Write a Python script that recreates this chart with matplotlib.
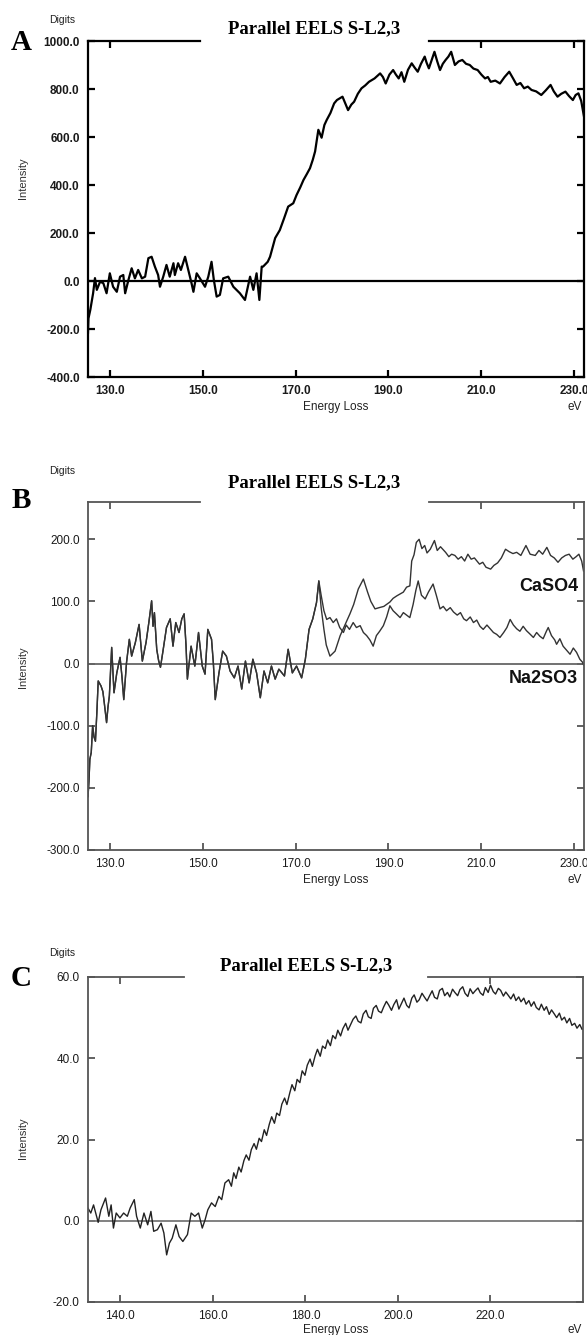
import matplotlib
matplotlib.use("Agg")
from matplotlib import pyplot as plt
from matplotlib.ticker import FormatStrFormatter

# panel A: S-L2,3 edge, single spectrum
a_energy = [125.3, 125.4, 125.8, 126.1, 126.4, 126.8, 127.2, 127.9, 128.6, 129.3,
            130.0, 130.7, 131.5, 132.2, 132.9, 133.3, 134.0, 134.7, 135.4, 136.1,
            136.9, 137.6, 138.3, 139.0, 139.7, 140.4, 140.8, 141.5, 142.2, 142.9,
            143.7, 144.0, 144.7, 145.3, 146.2, 146.9, 147.6, 148.0, 148.7, 149.4,
            150.5, 151.2, 151.9, 152.4, 153.0, 153.7, 154.4, 155.5, 156.6, 158.0,
            159.1, 160.2, 160.9, 161.6, 162.2, 162.7, 163.0, 164.0, 164.5, 165.6,
            166.6, 167.5, 168.4, 169.5, 170.2, 171.0, 171.7, 172.4, 173.1, 173.7,
            174.2, 174.9, 175.6, 176.2, 176.7, 177.5, 178.3, 178.9, 180.1, 181.3,
            182.0, 182.6, 183.4, 184.2, 185.0, 185.8, 187.0, 188.2, 188.8, 189.4,
            190.2, 191.0, 191.6, 192.2, 192.8, 193.4, 194.2, 195.0, 195.6, 196.3,
            197.0, 197.8, 198.2, 198.7, 199.3, 199.9, 200.5, 201.1, 201.7, 202.3,
            202.9, 203.5, 204.3, 205.1, 205.9, 206.7, 207.5, 208.3, 209.2, 210.0,
            210.8, 211.4, 212.0, 213.0, 214.0, 215.0, 216.0, 216.8, 217.6, 218.4,
            219.2, 220.0, 220.8, 221.8, 222.9, 223.9, 224.9, 225.6, 226.4, 227.2,
            228.1, 228.9, 229.7, 230.3, 230.9, 231.5, 232.1]
a_counts = [-215, -156, -120, -86, -51, 12, -37, -3, -9, -51,
            32, -24, -45, 18, 25, -51, 4, 53, 11, 46,
            11, 18, 95, 101, 60, 25, -24, 18, 67, 18,
            74, 25, 74, 46, 101, 46, -10, -45, 32, 11,
            -24, 18, 80, 4, -65, -58, 11, 18, -24, -51,
            -79, 18, -37, 32, -79, 60, 60, 80, 101, 179,
            212, 260, 310, 324, 358, 390, 421, 445, 470, 505,
            540, 630, 597, 650, 671, 700, 740, 754, 768, 712,
            735, 747, 780, 803, 815, 830, 844, 865, 850, 823,
            860, 879, 860, 844, 870, 830, 880, 907, 890, 872,
            905, 935, 910, 886, 920, 955, 915, 879, 905, 921,
            935, 955, 900, 915, 921, 905, 900, 885, 879, 860,
            844, 850, 830, 835, 823, 850, 872, 845, 817, 825,
            803, 810, 796, 790, 775, 795, 817, 790, 768, 780,
            789, 770, 754, 775, 782, 750, 685]

# panel B: below ~175 eV both spectra lie on top of each other
b_energy_shared = [125.3, 125.5, 125.7, 126.0, 126.3, 126.6, 126.9, 127.2, 127.5, 128.1,
                   128.5, 128.8, 129.3, 129.6, 129.9, 130.4, 130.9, 131.5, 132.2, 132.6,
                   133.0, 133.6, 134.2, 134.7, 135.5, 136.3, 137.0, 137.8, 138.4, 139.0,
                   139.3, 139.6, 140.1, 140.5, 140.9, 141.4, 142.2, 143.0, 143.6, 144.2,
                   144.9, 145.5, 146.0, 146.4, 146.7, 147.5, 148.3, 149.1, 149.9, 150.5,
                   151.1, 151.9, 152.3, 152.7, 153.5, 154.3, 155.1, 155.9, 156.8, 157.6,
                   158.4, 159.2, 160.0, 160.8, 161.6, 162.4, 163.2, 164.0, 164.8, 165.6,
                   166.4, 167.6, 168.4, 169.3, 170.2, 171.3, 172.1, 172.9, 173.7, 174.5,
                   175.0]
b_counts_shared = [-214, -190, -154, -143, -100, -118, -125, -80, -28, -36,
                   -45, -63, -95, -70, -52, 26, -47, -15, 10, -20,
                   -58, 2, 39, 12, 34, 63, 4, 34, 66, 101,
                   60, 82, 23, 5, -6, 18, 58, 72, 28, 66,
                   50, 72, 80, 30, -25, 28, -4, 50, -4, -17,
                   55, 39, 0, -58, -15, 20, 12, -12, -23, -4,
                   -41, 4, -31, 7, -15, -55, -12, -31, -4, -25,
                   -9, -20, 23, -15, -4, -23, 7, 55, 72, 98,
                   133]

caso4_energy = [175.5, 176.1, 176.6, 177.4, 178.5, 179.6, 180.5, 181.7, 182.5, 183.5,
                184.6, 185.5, 186.2, 187.1, 188.0, 189.0, 190.3, 191.0, 191.8, 192.5,
                193.2, 193.9, 194.6, 195.0, 195.5, 196.0, 196.6, 197.2, 197.8, 198.3,
                199.0, 199.9, 200.5, 201.2, 202.3, 203.0, 203.6, 204.3, 205.0, 205.7,
                206.4, 207.1, 207.8, 208.5, 209.6, 210.3, 211.0, 212.0, 212.7, 213.5,
                214.3, 215.2, 216.0, 216.8, 217.6, 218.5, 219.6, 220.5, 221.6, 222.4,
                223.2, 224.1, 224.9, 225.7, 226.5, 227.3, 228.1, 228.9, 229.7, 230.4,
                231.0, 231.6, 232.0]
caso4_counts = [90, 55, 30, 12, 20, 45, 60, 80, 95, 120,
                136, 115, 100, 88, 90, 92, 99, 105, 109, 112,
                115, 123, 125, 165, 175, 195, 200, 185, 190, 178,
                184, 198, 182, 188, 179, 172, 176, 174, 168, 172,
                165, 176, 168, 170, 160, 163, 155, 152, 158, 162,
                170, 184, 180, 177, 179, 174, 190, 176, 174, 182,
                176, 187, 174, 170, 163, 170, 174, 176, 168, 172,
                176, 165, 149]

na2so3_energy = [175.5, 176.1, 176.7, 177.4, 178.1, 178.8, 179.5, 180.3, 180.9, 181.6,
                 182.4, 183.1, 183.9, 184.6, 185.3, 186.0, 186.7, 187.4, 188.1, 188.9,
                 189.6, 190.3, 191.0, 191.7, 192.5, 193.2, 193.9, 194.6, 195.3, 195.9,
                 196.4, 197.1, 197.9, 198.6, 199.6, 200.3, 201.1, 201.8, 202.5, 203.3,
                 204.0, 204.8, 205.5, 206.2, 206.8, 207.6, 208.3, 209.0, 209.7, 210.4,
                 211.2, 211.9, 212.6, 213.3, 214.0, 214.8, 215.5, 216.2, 216.9, 217.6,
                 218.3, 219.0, 219.7, 220.4, 221.2, 221.9, 222.6, 223.3, 224.0, 224.4,
                 225.1, 225.8, 226.2, 226.9, 227.6, 228.3, 229.1, 229.8, 230.5, 231.2,
                 231.8, 232.0]
na2so3_counts = [110, 85, 71, 74, 66, 72, 58, 50, 62, 55,
                 66, 58, 61, 50, 45, 38, 28, 45, 52, 61,
                 75, 93, 85, 80, 74, 82, 78, 74, 95, 118,
                 133, 110, 104, 115, 128, 110, 88, 92, 85, 90,
                 83, 78, 82, 72, 69, 75, 66, 70, 60, 55,
                 62, 56, 50, 47, 42, 50, 58, 71, 62, 56,
                 52, 60, 53, 48, 42, 50, 44, 40, 52, 58,
                 45, 38, 31, 40, 28, 22, 15, 25, 18, 7,
                 2, -2]

# panel C
c_energy = [133.0, 133.6, 134.2, 135.2, 135.8, 136.8, 137.5, 138.0, 138.5, 139.1,
            139.9, 140.7, 141.5, 142.1, 143.0, 143.5, 144.3, 145.1, 145.9, 146.6,
            147.2, 148.0, 148.8, 149.4, 150.0, 150.6, 151.2, 152.0, 152.7, 153.5,
            154.5, 155.3, 156.1, 156.9, 157.7, 158.3, 158.9, 159.7, 160.5, 161.3,
            161.9, 162.6, 163.4, 164.0, 164.5, 165.0, 165.6, 166.1, 166.7, 167.2,
            167.8, 168.3, 168.9, 169.4, 170.0, 170.5, 171.1, 171.6, 172.2, 172.7,
            173.3, 173.8, 174.4, 174.9, 175.5, 176.0, 176.6, 177.1, 177.7, 178.2,
            178.8, 179.3, 179.9, 180.4, 181.0, 181.5, 182.1, 182.6, 183.2, 183.7,
            184.3, 184.8, 185.4, 185.9, 186.5, 187.0, 187.6, 188.1, 188.7, 189.2,
            189.8, 190.3, 190.9, 191.4, 192.0, 192.5, 193.1, 193.6, 194.2, 194.7,
            195.3, 195.8, 196.4, 196.9, 197.5, 198.0, 198.6, 199.1, 199.7, 200.2,
            200.8, 201.3, 201.9, 202.4, 203.0, 203.5, 204.1, 204.6, 205.2, 205.7,
            206.3, 206.8, 207.4, 207.9, 208.5, 209.0, 209.6, 210.1, 210.7, 211.2,
            211.8, 212.3, 212.9, 213.4, 214.0, 214.5, 215.1, 215.6, 216.2, 216.7,
            217.3, 217.8, 218.4, 218.9, 219.5, 220.0, 220.6, 221.1, 221.7, 222.2,
            222.8, 223.3, 223.9, 224.4, 225.0, 225.5, 226.1, 226.6, 227.2, 227.7,
            228.3, 228.8, 229.4, 229.9, 230.5, 231.0, 231.6, 232.1, 232.7, 233.2,
            233.8, 234.3, 234.9, 235.4, 236.0, 236.5, 237.1, 237.6, 238.2, 238.7,
            239.3, 239.8, 240.0]
c_counts = [3.1, 1.9, 3.9, -0.4, 2.7, 5.6, 1.1, 3.9, -1.8, 1.9,
            0.7, 1.9, 1.1, 3.1, 5.2, 1.1, -1.8, 1.9, -1.0, 2.3,
            -2.6, -2.2, -0.6, -3.0, -8.4, -5.5, -4.3, -1.0, -3.9, -5.1,
            -3.4, 1.9, 1.1, 1.9, -1.8, 0.2, 2.7, 4.4, 3.5, 6.0,
            5.2, 9.3, 10.1, 8.5, 11.8, 10.4, 13.2, 12.0, 14.8, 16.2,
            14.9, 17.5, 19.0, 17.6, 20.3, 19.5, 22.4, 21.0, 23.8, 25.6,
            24.0, 26.5, 25.9, 28.7, 30.2, 28.6, 31.4, 33.5, 32.0, 34.8,
            34.0, 36.9, 35.8, 38.3, 39.8, 38.0, 40.6, 42.2, 40.5, 43.0,
            42.4, 44.5, 43.1, 45.6, 44.8, 46.9, 45.5, 47.3, 48.6, 46.9,
            48.4, 49.6, 50.4, 49.1, 48.7, 50.9, 51.8, 50.2, 49.8, 52.3,
            53.0, 51.6, 51.2, 52.6, 54.0, 53.1, 51.8, 53.2, 54.4, 52.1,
            53.6, 54.8, 53.0, 52.4, 54.8, 55.6, 53.8, 54.4, 56.0, 55.1,
            54.1, 55.3, 56.6, 55.0, 54.6, 56.7, 57.2, 55.4, 56.2, 55.1,
            57.0, 56.2, 55.4, 56.9, 57.6, 56.0, 55.2, 57.1, 55.9, 56.6,
            57.3, 56.1, 55.5, 57.4, 56.2, 58.0, 56.4, 55.8, 57.2, 56.7,
            55.3, 56.3, 55.4, 54.6, 55.8, 54.2, 55.1, 53.9, 54.8, 53.3,
            54.2, 52.8, 53.9, 52.5, 51.9, 53.3, 51.8, 52.7, 50.8, 51.9,
            50.9, 50.0, 51.1, 49.4, 50.1, 48.7, 49.8, 48.1, 48.6, 47.4,
            48.3, 47.1, 47.2]

ab_xticks = [130, 150, 170, 190, 210, 230]
a_yticks = [-400, -200, 0, 200, 400, 600, 800, 1000]
b_yticks = [-300, -200, -100, 0, 100, 200]
c_xticks = [140, 160, 180, 200, 220]
c_yticks = [-20, 0, 20, 40, 60]

plt.rcParams['font.family'] = ['Liberation Sans', 'DejaVu Sans']
plt.rcParams['axes.unicode_minus'] = False

W, H = 587, 1335
fig = plt.figure(figsize=(W / 100, H / 100), dpi=100)


def box(left, top, right, bottom):
    return [left / W, 1 - bottom / H, (right - left) / W, (bottom - top) / H]


def px(x, y):
    return x / W, 1 - y / H


def setup(ax, xlim, ylim, xticks, yticks, gap, frame, lw, bold):
    ax.set_xlim(xlim)
    ax.set_ylim(ylim)
    ax.set_xticks(xticks)
    ax.set_yticks(yticks)
    ax.xaxis.set_major_formatter(FormatStrFormatter('%.1f'))
    ax.yaxis.set_major_formatter(FormatStrFormatter('%.1f'))
    ax.tick_params(direction='in', length=5, width=lw, top=True, right=True,
                   color=frame, labelsize=8.5, labelcolor='#1a1a1a')
    ax.tick_params(axis='x', pad=5.5)
    ax.tick_params(axis='y', pad=6)
    for lab in ax.get_xticklabels() + ax.get_yticklabels():
        lab.set_fontweight('bold' if bold else 'normal')
    for side in ['left', 'right', 'bottom']:
        ax.spines[side].set_color(frame)
        ax.spines[side].set_linewidth(lw)
    # top frame is broken where the title sits
    ax.spines['top'].set_visible(False)
    ax.plot([0, gap[0]], [1, 1], transform=ax.transAxes, color=frame, lw=lw,
            clip_on=False, solid_capstyle='projecting')
    ax.plot([gap[1], 1], [1, 1], transform=ax.transAxes, color=frame, lw=lw,
            clip_on=False, solid_capstyle='projecting')
    for tick, v in zip(ax.xaxis.get_major_ticks(), xticks):
        f = (v - xlim[0]) / (xlim[1] - xlim[0])
        if gap[0] < f < gap[1]:
            tick.tick2line.set_visible(False)


def labels(letter, ly, digits_y, title_x, title_y, int_y, bottom_y):
    fig.text(*px(21, ly), letter, family='Liberation Serif', fontweight='bold',
             fontsize=21, ha='center', va='center')
    fig.text(*px(62, digits_y), 'Digits', fontsize=7.5, color='#222222',
             ha='center', va='center')
    fig.text(*px(title_x, title_y), 'Parallel EELS S-L2,3', family='Liberation Serif',
             fontweight='bold', fontsize=13.5, ha='center', va='center')
    fig.text(*px(23, int_y), 'Intensity', fontsize=8, color='#333333', rotation=90,
             ha='center', va='center')
    fig.text(*px(336, bottom_y), 'Energy Loss', fontsize=8.5, color='#222222',
             ha='center', va='center')
    fig.text(*px(575, bottom_y), 'eV', fontsize=8.5, color='#222222',
             ha='center', va='center')


ax_a = fig.add_axes(box(88, 41, 584, 377))
ax_b = fig.add_axes(box(88, 502, 584, 850))
ax_c = fig.add_axes(box(88, 977, 583, 1302))

# A
setup(ax_a, (125.3, 232.1), (-400, 1000), ab_xticks, a_yticks, (0.226, 0.687), 'black', 1.6, True)
ax_a.axhline(0, color='black', lw=1.6)
ax_a.plot(a_energy, a_counts, color='black', lw=1.6)
labels('A', 42, 20, 314, 29, 178, 407)

# B
setup(ax_b, (125.3, 232.1), (-300, 260), ab_xticks, b_yticks, (0.226, 0.687), '#555555', 1.3, False)
ax_b.axhline(0, color='#666666', lw=1.3)
ax_b.plot(b_energy_shared + caso4_energy, b_counts_shared + caso4_counts, color='#333333', lw=1.0)
ax_b.plot(b_energy_shared + na2so3_energy, b_counts_shared + na2so3_counts, color='#333333', lw=1.0)
ax_b.text(0.988, 0.756, 'CaSO4', transform=ax_b.transAxes, fontsize=13, fontweight='bold',
          ha='right', va='center', color='#111111')
ax_b.text(0.988, 0.494, 'Na2SO3', transform=ax_b.transAxes, fontsize=13, fontweight='bold',
          ha='right', va='center', color='#111111')
labels('B', 501, 471, 314, 483, 667, 880)

# C
setup(ax_c, (133, 240), (-20, 60), c_xticks, c_yticks, (0.194, 0.687), '#555555', 1.3, False)
ax_c.axhline(0, color='#777777', lw=1.3)
ax_c.plot(c_energy, c_counts, color='#222222', lw=1.0)
labels('C', 979, 953, 306, 966, 1138, 1330)

fig.savefig('out.png', dpi=100)
